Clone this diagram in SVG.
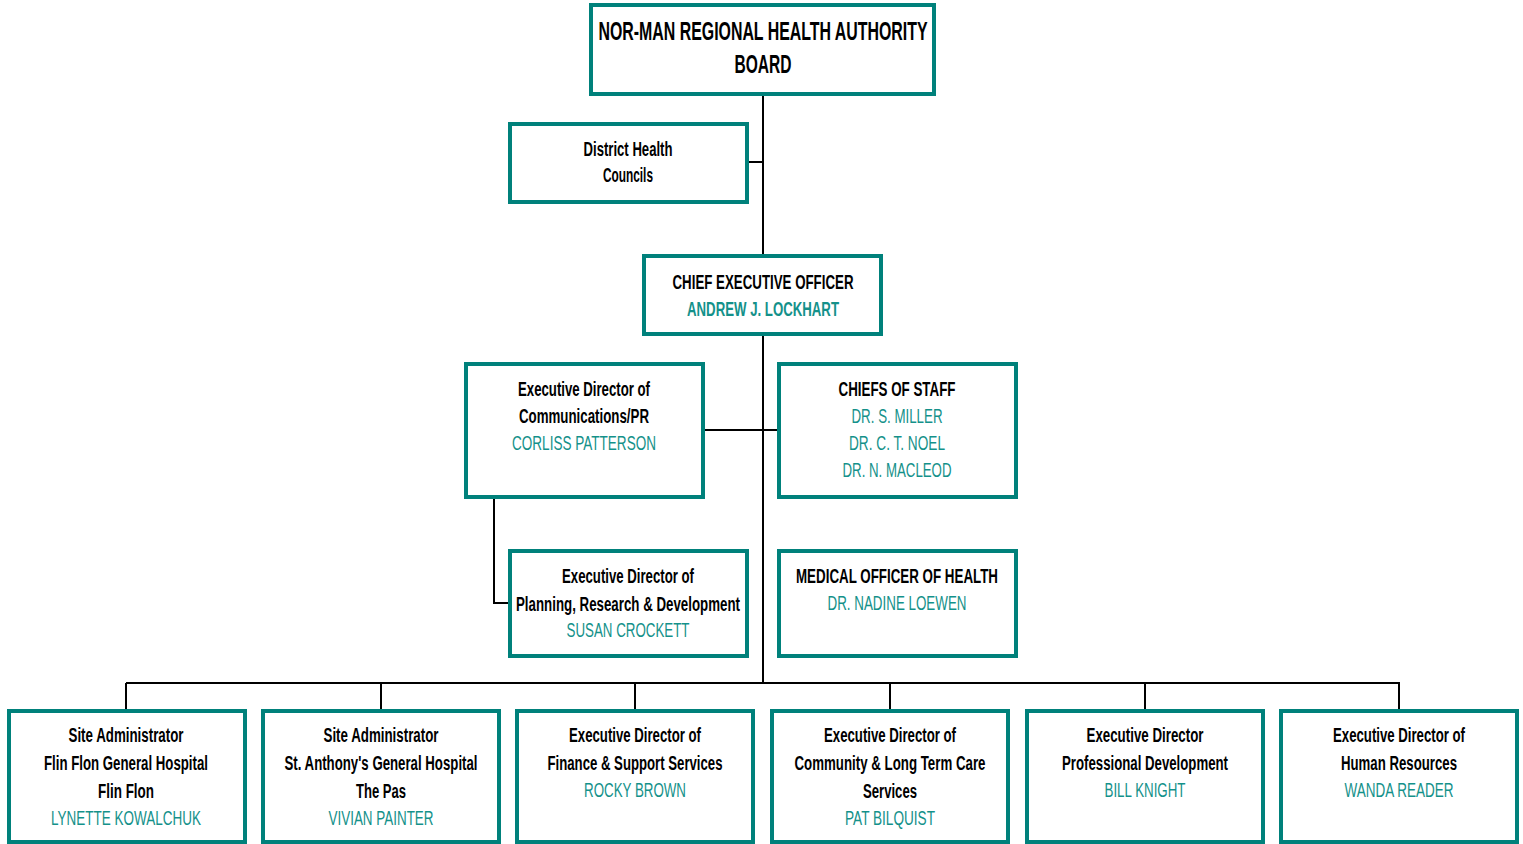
<svg xmlns="http://www.w3.org/2000/svg" width="1523" height="844" viewBox="0 0 1523 844">
<style>
.box{fill:#fff;stroke:#00817b;stroke-width:4}
.t{font-family:"Liberation Sans Narrow","Arial Narrow","Liberation Sans",sans-serif;font-size:20px;font-weight:bold;fill:#000;text-anchor:middle}
.n{font-family:"Liberation Sans Narrow","Arial Narrow","Liberation Sans",sans-serif;font-size:20px;fill:#14918a;text-anchor:middle}
.big{font-size:25px}
.c{stroke:#000;stroke-width:2;fill:none}
</style>
<rect width="1523" height="844" fill="#fff"/>
<g id="connectors">
<line class="c" x1="763" y1="95" x2="763" y2="683"/>
<line class="c" x1="747" y1="162" x2="763" y2="162"/>
<line class="c" x1="703" y1="430" x2="778" y2="430"/>
<polyline class="c" points="494,497 494,603 509,603"/>
<line class="c" x1="126" y1="683" x2="1400" y2="683"/>
<line class="c" x1="126" y1="683" x2="126" y2="709"/>
<line class="c" x1="381" y1="683" x2="381" y2="709"/>
<line class="c" x1="635" y1="683" x2="635" y2="709"/>
<line class="c" x1="890" y1="683" x2="890" y2="709"/>
<line class="c" x1="1145" y1="683" x2="1145" y2="709"/>
<line class="c" x1="1399" y1="683" x2="1399" y2="709"/>
</g>
<g id="board">
<rect class="box" x="591" y="5" width="343" height="89"/>
<text class="t big" x="763" y="40" textLength="329" lengthAdjust="spacingAndGlyphs">NOR-MAN REGIONAL HEALTH AUTHORITY</text>
<text class="t big" x="763" y="73" textLength="57" lengthAdjust="spacingAndGlyphs">BOARD</text>
</g>
<g id="district">
<rect class="box" x="510" y="124" width="237" height="78"/>
<text class="t" x="628" y="156" textLength="89" lengthAdjust="spacingAndGlyphs">District Health</text>
<text class="t" x="628" y="182" textLength="50" lengthAdjust="spacingAndGlyphs">Councils</text>
</g>
<g id="ceo">
<rect class="box" x="644" y="256" width="237" height="78"/>
<text class="t" x="763" y="289" textLength="181" lengthAdjust="spacingAndGlyphs">CHIEF EXECUTIVE OFFICER</text>
<text class="n" x="763" y="316" font-weight="bold" textLength="152" lengthAdjust="spacingAndGlyphs">ANDREW J. LOCKHART</text>
</g>
<g id="comms">
<rect class="box" x="466" y="364" width="237" height="133"/>
<text class="t" x="584" y="396" textLength="132" lengthAdjust="spacingAndGlyphs">Executive Director of</text>
<text class="t" x="584" y="423" textLength="130" lengthAdjust="spacingAndGlyphs">Communications/PR</text>
<text class="n" x="584" y="450" textLength="144" lengthAdjust="spacingAndGlyphs">CORLISS PATTERSON</text>
</g>
<g id="chiefs">
<rect class="box" x="779" y="364" width="237" height="133"/>
<text class="t" x="897" y="396" textLength="117" lengthAdjust="spacingAndGlyphs">CHIEFS OF STAFF</text>
<text class="n" x="897" y="423" textLength="91" lengthAdjust="spacingAndGlyphs">DR. S. MILLER</text>
<text class="n" x="897" y="450" textLength="96" lengthAdjust="spacingAndGlyphs">DR. C. T. NOEL</text>
<text class="n" x="897" y="477" textLength="109" lengthAdjust="spacingAndGlyphs">DR. N. MACLEOD</text>
</g>
<g id="planning">
<rect class="box" x="510" y="551" width="237" height="105"/>
<text class="t" x="628" y="583" textLength="132" lengthAdjust="spacingAndGlyphs">Executive Director of</text>
<text class="t" x="628" y="611" textLength="224" lengthAdjust="spacingAndGlyphs">Planning, Research &amp; Development</text>
<text class="n" x="628" y="637" textLength="123" lengthAdjust="spacingAndGlyphs">SUSAN CROCKETT</text>
</g>
<g id="moh">
<rect class="box" x="779" y="551" width="237" height="105"/>
<text class="t" x="897" y="583" textLength="202" lengthAdjust="spacingAndGlyphs">MEDICAL OFFICER OF HEALTH</text>
<text class="n" x="897" y="610" textLength="139" lengthAdjust="spacingAndGlyphs">DR. NADINE LOEWEN</text>
</g>
<g id="flinflon">
<rect class="box" x="9" y="711" width="236" height="131"/>
<text class="t" x="126" y="742" textLength="115" lengthAdjust="spacingAndGlyphs">Site Administrator</text>
<text class="t" x="126" y="770" textLength="164" lengthAdjust="spacingAndGlyphs">Flin Flon General Hospital</text>
<text class="t" x="126" y="798" textLength="56" lengthAdjust="spacingAndGlyphs">Flin Flon</text>
<text class="n" x="126" y="825" textLength="150" lengthAdjust="spacingAndGlyphs">LYNETTE KOWALCHUK</text>
</g>
<g id="thepas">
<rect class="box" x="263" y="711" width="236" height="131"/>
<text class="t" x="381" y="742" textLength="115" lengthAdjust="spacingAndGlyphs">Site Administrator</text>
<text class="t" x="381" y="770" textLength="193" lengthAdjust="spacingAndGlyphs">St. Anthony's General Hospital</text>
<text class="t" x="381" y="798" textLength="50" lengthAdjust="spacingAndGlyphs">The Pas</text>
<text class="n" x="381" y="825" textLength="105" lengthAdjust="spacingAndGlyphs">VIVIAN PAINTER</text>
</g>
<g id="finance">
<rect class="box" x="517" y="711" width="236" height="131"/>
<text class="t" x="635" y="742" textLength="132" lengthAdjust="spacingAndGlyphs">Executive Director of</text>
<text class="t" x="635" y="770" textLength="175" lengthAdjust="spacingAndGlyphs">Finance &amp; Support Services</text>
<text class="n" x="635" y="797" textLength="102" lengthAdjust="spacingAndGlyphs">ROCKY BROWN</text>
</g>
<g id="community">
<rect class="box" x="772" y="711" width="236" height="131"/>
<text class="t" x="890" y="742" textLength="132" lengthAdjust="spacingAndGlyphs">Executive Director of</text>
<text class="t" x="890" y="770" textLength="191" lengthAdjust="spacingAndGlyphs">Community &amp; Long Term Care</text>
<text class="t" x="890" y="798" textLength="54" lengthAdjust="spacingAndGlyphs">Services</text>
<text class="n" x="890" y="825" textLength="90" lengthAdjust="spacingAndGlyphs">PAT BILQUIST</text>
</g>
<g id="profdev">
<rect class="box" x="1027" y="711" width="236" height="131"/>
<text class="t" x="1145" y="742" textLength="117" lengthAdjust="spacingAndGlyphs">Executive Director</text>
<text class="t" x="1145" y="770" textLength="166" lengthAdjust="spacingAndGlyphs">Professional Development</text>
<text class="n" x="1145" y="797" textLength="81" lengthAdjust="spacingAndGlyphs">BILL KNIGHT</text>
</g>
<g id="hr">
<rect class="box" x="1281" y="711" width="236" height="131"/>
<text class="t" x="1399" y="742" textLength="132" lengthAdjust="spacingAndGlyphs">Executive Director of</text>
<text class="t" x="1399" y="770" textLength="116" lengthAdjust="spacingAndGlyphs">Human Resources</text>
<text class="n" x="1399" y="797" textLength="109" lengthAdjust="spacingAndGlyphs">WANDA READER</text>
</g>
</svg>
